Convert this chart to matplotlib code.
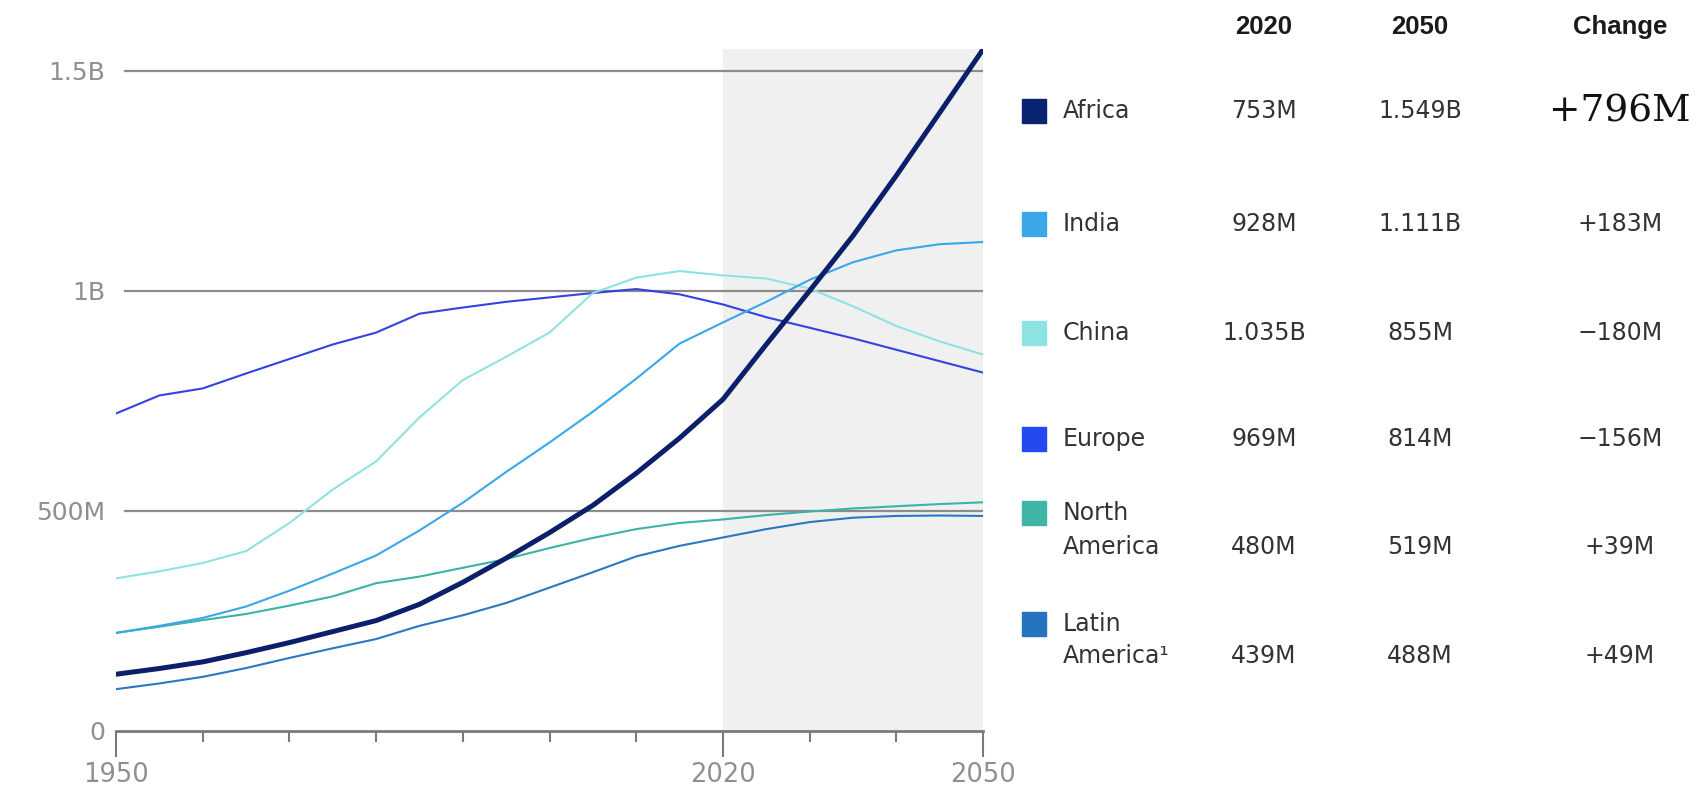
import matplotlib
matplotlib.use("Agg")
import matplotlib.pyplot as plt
from matplotlib.ticker import FixedLocator

years = [1950, 1955, 1960, 1965, 1970, 1975, 1980, 1985, 1990, 1995, 2000,
         2005, 2010, 2015, 2020, 2025, 2030, 2035, 2040, 2045, 2050]

# population in millions
africa = [128, 141, 156, 177, 200, 225, 250, 287, 337, 392, 450,
          512, 585, 665, 753, 878, 1000, 1125, 1262, 1405, 1549]
india = [222, 238, 256, 282, 318, 357, 398, 455, 518, 588, 655,
         725, 800, 880, 928, 975, 1025, 1065, 1092, 1106, 1111]
china = [346, 362, 381, 408, 472, 548, 612, 712, 797, 850, 905,
         995, 1030, 1045, 1035, 1028, 1005, 965, 920, 885, 855]
europe = [721, 762, 778, 812, 845, 878, 905, 948, 962, 975, 985,
          995, 1004, 992, 969, 940, 916, 892, 866, 840, 814]
north_america = [222, 236, 251, 265, 284, 305, 335, 350, 370, 390, 415,
                 438, 458, 472, 480, 490, 498, 505, 510, 515, 519]
latin_america = [94, 107, 122, 142, 165, 187, 208, 238, 262, 290, 325,
                 360, 396, 420, 439, 458, 474, 484, 488, 489, 488]

regions = ["Africa", "India", "China", "Europe", "North\nAmerica", "Latin\nAmerica¹"]
series = [africa, india, china, europe, north_america, latin_america]
line_colors = ["#0b1f6b", "#3aa6ea", "#8ee3e0", "#3343df", "#3cb3a5", "#2a78c2"]
box_colors = ["#0a2472", "#3ba6ea", "#8de3e1", "#2449f0", "#3fb5a8", "#2474c0"]
val_2020 = ["753M", "928M", "1.035B", "969M", "480M", "439M"]
val_2050 = ["1.549B", "1.111B", "855M", "814M", "519M", "488M"]
val_change = ["+796M", "+183M", "\u2212180M", "\u2212156M", "+39M", "+49M"]

W, H = 1704, 792
fig = plt.figure(figsize=(W / 100, H / 100), dpi=100)
ax = fig.add_axes([116 / W, 1 - 730.5 / H, (983 - 116) / W, (730.5 - 49) / H])

ax.axvspan(2020, 2050, color="#f0f0f0", zorder=0, lw=0)
for g in [500, 1000, 1500]:
    ax.axhline(g, xmin=0.01, color="#8c8c8c", lw=1.6, zorder=1)

for i in [5, 4, 3, 2, 1, 0]:
    lw = 3.6 if i == 0 else 1.5
    ax.plot(years, series[i], color=line_colors[i], lw=lw, zorder=3 + (6 - i),
            solid_joinstyle="round")

ax.set_xlim(1950, 2050)
ax.set_ylim(0, 1550)
for s in ["top", "right", "left"]:
    ax.spines[s].set_visible(False)
ax.spines["bottom"].set_color("#7a7a7a")
ax.spines["bottom"].set_linewidth(2)

ax.xaxis.set_major_locator(FixedLocator([1950, 2020, 2050]))
ax.xaxis.set_minor_locator(FixedLocator(list(range(1960, 2050, 10))))
ax.tick_params(axis="x", which="major", length=19, width=1.5, color="#7a7a7a",
               labelsize=18.5, labelcolor="#8f8f8f", pad=4)
ax.tick_params(axis="x", which="minor", length=8, width=1.5, color="#7a7a7a")
ax.set_yticks([0, 500, 1000, 1500])
ax.set_yticklabels(["0", "500M", "1B", "1.5B"])
ax.tick_params(axis="y", length=0, labelsize=18, labelcolor="#8f8f8f", pad=8)

hdr_y = 27
col_x = [1264, 1420, 1620]
for x, t in zip(col_x, ["2020", "2050", "Change"]):
    fig.text(x / W, 1 - hdr_y / H, t, ha="center", va="center", fontsize=18.5,
             fontweight="bold", color="#1a1a1a", family="Liberation Sans")

txt = dict(fontsize=17, color="#333333", va="center")
row_y = [111, 224, 333, 439, 547, 656]
box_y = [111, 224, 333, 439, 513, 624]
for i, name in enumerate(regions):
    fig.patches.append(plt.Rectangle((1022 / W, 1 - (box_y[i] + 12) / H), 24 / W, 24 / H,
                                     transform=fig.transFigure, color=box_colors[i]))
    if "\n" in name:
        top, bottom = name.split("\n")
        fig.text(1063 / W, 1 - box_y[i] / H, top, ha="left", **txt)
        fig.text(1063 / W, 1 - row_y[i] / H, bottom, ha="left", **txt)
    else:
        fig.text(1063 / W, 1 - row_y[i] / H, name, ha="left", **txt)
    fig.text(col_x[0] / W, 1 - row_y[i] / H, val_2020[i], ha="center", **txt)
    fig.text(col_x[1] / W, 1 - row_y[i] / H, val_2050[i], ha="center", **txt)
    if i == 0:
        fig.text(col_x[2] / W, 1 - row_y[i] / H, val_change[i], ha="center", va="center",
                 fontsize=27, color="#111111", family="DejaVu Serif")
    else:
        fig.text(col_x[2] / W, 1 - row_y[i] / H, val_change[i], ha="center", **txt)

fig.savefig("out.png", dpi=100, facecolor="white")
